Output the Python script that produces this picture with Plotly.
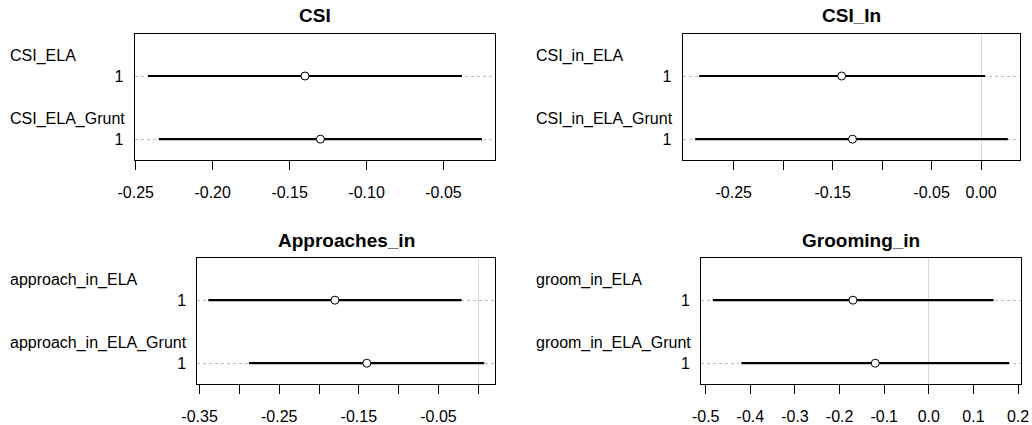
import plotly.graph_objects as go

# Coefficient estimates with 95% intervals, one panel per outcome
panel_titles = ["CSI", "CSI_In", "Approaches_in", "Grooming_in"]
term_labels = [
    ["CSI_ELA", "CSI_ELA_Grunt"],
    ["CSI_in_ELA", "CSI_in_ELA_Grunt"],
    ["approach_in_ELA", "approach_in_ELA_Grunt"],
    ["groom_in_ELA", "groom_in_ELA_Grunt"],
]
estimates = [
    [-0.140, -0.130],
    [-0.141, -0.130],
    [-0.180, -0.140],
    [-0.170, -0.120],
]
lower = [
    [-0.242, -0.235],
    [-0.285, -0.289],
    [-0.339, -0.288],
    [-0.484, -0.420],
]
upper = [
    [-0.038, -0.025],
    [0.004, 0.027],
    [-0.021, 0.0075],
    [0.145, 0.180],
]
x_tick_vals = [
    [-0.25, -0.20, -0.15, -0.10, -0.05],
    [-0.25, -0.20, -0.15, -0.10, -0.05, 0.00],
    [-0.35, -0.30, -0.25, -0.20, -0.15, -0.10, -0.05, 0.00],
    [-0.5, -0.4, -0.3, -0.2, -0.1, 0.0, 0.1, 0.2],
]
x_tick_text = [
    ["-0.25", "-0.20", "-0.15", "-0.10", "-0.05"],
    ["-0.25", "", "-0.15", "", "-0.05", "0.00"],
    ["-0.35", "", "-0.25", "", "-0.15", "", "-0.05", ""],
    ["-0.5", "-0.4", "-0.3", "-0.2", "-0.1", "0.0", "0.1", "0.2"],
]
row_labels = ["1", "1"]

W, H = 1032, 425
FONT = "Liberation Sans, Arial, Helvetica, sans-serif"

# plot boxes in pixels: (left, right, top, bottom)
boxes = [
    (134.7, 495.3, 33.7, 160.0),
    (682.7, 1020.3, 33.7, 160.0),
    (197.3, 495.3, 258.0, 384.0),
    (701.0, 1021.0, 258.0, 384.0),
]
group_label_x = [8.3, 534.3, 8.3, 534.3]
title_y = [15.5, 15.5, 240.0, 240.0]

fig = go.Figure()
rows_y = [2, 1]

for i in range(4):
    ax = "" if i == 0 else str(i + 1)
    est = estimates[i]
    lo = lower[i]
    hi = upper[i]
    fig.add_trace(go.Scatter(
        x=est, y=rows_y,
        xaxis="x" + ax, yaxis="y" + ax,
        mode="markers",
        marker=dict(symbol="circle", size=8, color="white",
                    line=dict(color="black", width=1)),
        error_x=dict(type="data", symmetric=False,
                     array=[h - e for h, e in zip(hi, est)],
                     arrayminus=[e - l for e, l in zip(est, lo)],
                     color="black", thickness=2.2, width=0),
        showlegend=False, hoverinfo="skip",
    ))

    # R-style 4% padding around the data
    dmin, dmax = min(lo), max(hi)
    pad = 0.04 * (dmax - dmin)
    l, r, t, b = boxes[i]
    fig.layout["xaxis" + ax] = dict(
        domain=[l / W, r / W],
        anchor="y" + ax,
        automargin=False,
        range=[dmin - pad, dmax + pad],
        showline=True, mirror=True, linecolor="black", linewidth=1,
        showgrid=False,
        zeroline=True, zerolinecolor="#d9d9d9", zerolinewidth=1,
        ticks="outside", ticklen=9, tickcolor="black", tickwidth=1,
        tickvals=x_tick_vals[i], ticktext=x_tick_text[i],
        tickfont=dict(family=FONT, size=16, color="black"),
        ticklabelstandoff=9,
    )
    fig.layout["yaxis" + ax] = dict(
        domain=[1 - b / H, 1 - t / H],
        anchor="x" + ax,
        automargin=False,
        range=[0.67, 2.67],
        showline=True, mirror=True, linecolor="black", linewidth=1,
        showgrid=True, gridcolor="#bdbdbd", gridwidth=1, griddash="dot",
        zeroline=False,
        ticks="",
        tickvals=rows_y, ticktext=row_labels,
        tickfont=dict(family=FONT, size=16, color="black"),
        ticklabelstandoff=7,
    )

    fig.add_annotation(
        text="<b>" + panel_titles[i] + "</b>",
        xref="paper", yref="paper",
        x=(l + r) / 2 / W, y=1 - title_y[i] / H,
        xanchor="center", yanchor="middle", showarrow=False,
        font=dict(family=FONT, size=19, color="black"),
    )
    for lab, yv in zip(term_labels[i], rows_y):
        fig.add_annotation(
            text=lab,
            xref="paper", yref="y" + ax,
            x=group_label_x[i] / W, y=yv, yshift=20,
            xanchor="left", yanchor="middle", showarrow=False,
            font=dict(family=FONT, size=16, color="black"),
        )

fig.update_layout(
    width=W, height=H,
    margin=dict(l=0, r=0, t=0, b=0, pad=0, autoexpand=False),
    paper_bgcolor="white", plot_bgcolor="white",
    font=dict(family=FONT, size=16, color="black"),
)

fig.write_html("out.html")
